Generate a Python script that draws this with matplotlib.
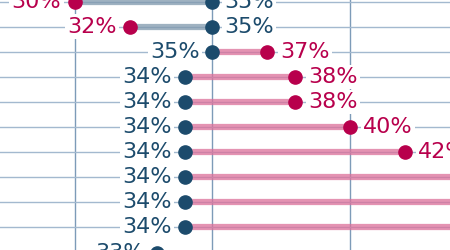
import matplotlib
matplotlib.use("Agg")
import matplotlib.pyplot as plt
import numpy as np

# one row per category, values in percent
red_vals = [30, 32, 37, 38, 38, 40, 42, 45, 46, 47, 45]
blue_vals = [35, 35, 35, 34, 34, 34, 34, 34, 34, 34, 33]

RED = "#b8004c"
BLUE = "#1c4b6c"
BAND_UP = "#dc6f99"
BAND_DOWN = "#7f98ad"
GRID = "#a3b9cf"

fig = plt.figure(figsize=(4.5, 2.5), dpi=100)
ax = fig.add_axes([0, 0, 1, 1])
ax.set_xlim(27.29, 43.65)
ax.set_ylim(9.90, -0.06)
ax.axis("off")

rows = np.arange(len(red_vals))

for x in [30, 35, 40]:
    ax.axvline(x, color="#7d9bb8", lw=1, zorder=1)
for y in rows:
    ax.axhline(y, color=GRID, lw=1, zorder=1)

lab = dict(fontsize=16, va="center", zorder=6, annotation_clip=False,
           bbox=dict(boxstyle="square,pad=0.1", fc="white", ec="none"))

for y, r, b in zip(rows, red_vals, blue_vals):
    band = BAND_UP if r > b else BAND_DOWN
    ax.plot([r, b], [y, y], color=band, lw=4.5, alpha=0.75,
            solid_capstyle="butt", zorder=2)
    ax.plot([r], [y], "o", color=RED, ms=9.5, zorder=5)
    ax.plot([b], [y], "o", color=BLUE, ms=9.5, zorder=5)
    s = 1 if r > b else -1
    ax.annotate(f"{r}%", (r, y), xytext=(s * 9.5, 0), textcoords="offset points",
                ha="left" if s > 0 else "right", color=RED, **lab)
    ax.annotate(f"{b}%", (b, y), xytext=(-s * 9, 0), textcoords="offset points",
                ha="right" if s > 0 else "left", color=BLUE, **lab)

fig.savefig("out.png", dpi=100)
